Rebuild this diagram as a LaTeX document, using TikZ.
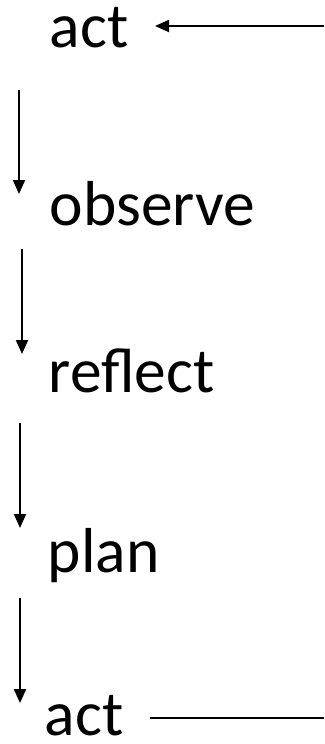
\documentclass[tikz,border=0pt]{standalone}
\usepackage{fontspec}
\setmainfont{Carlito}
\usetikzlibrary{arrows.meta}
\usetikzlibrary{positioning}

\begin{document}
\begin{tikzpicture}[x=1pt,y=-1pt,>={Triangle[width=12pt,length=14pt]},line width=1.9pt,
  every node/.style={inner sep=0pt,anchor=base west,font=\fontsize{63.5}{63.5}\selectfont}]
\useasboundingbox (0,0) rectangle (324,744);

\node (act1) at (49,47) {act};
\node (observe) at (49,225) {observe};
\node (reflect) at (48,392) {reflect};
\node (plan) at (47,572) {plan};
\node (act2) at (44,735) {act};

% the steps down the left
\coordinate (s1) at (19,90);  \coordinate (e1) at (19,194);
\coordinate (s2) at (22,249); \coordinate (e2) at (22,354);
\coordinate (s3) at (20,423); \coordinate (e3) at (20,528);
\coordinate (s4) at (20,598); \coordinate (e4) at (20,703);
\foreach \i in {1,...,4}
  \draw[->] (s\i) -- (e\i);

% loop back
\coordinate (back1) at (324,26);
\coordinate (back2) at (324,718);
\draw[->] (back1) -- (155,26);
\draw (act2.east |- back2) ++(26,0) -- (back2);
\end{tikzpicture}
\end{document}
